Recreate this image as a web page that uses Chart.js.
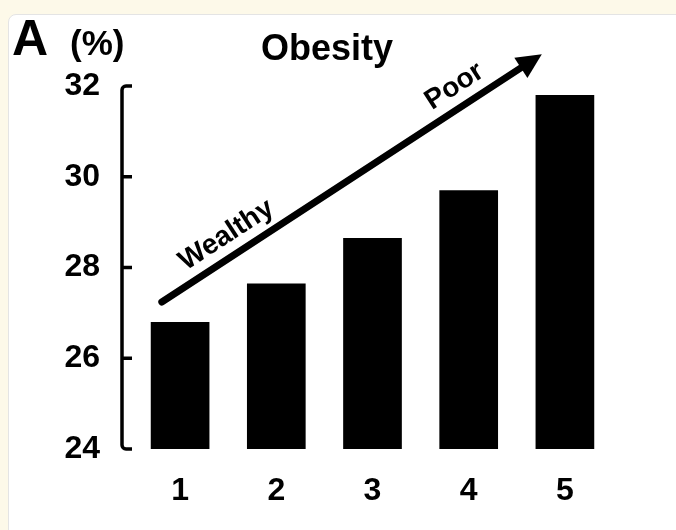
<!DOCTYPE html>
<html>
<head>
<meta charset="utf-8">
<script src="https://cdn.jsdelivr.net/npm/chart.js@4.4.1/dist/chart.umd.min.js"></script>
<style>
  html, body { margin: 0; padding: 0; }
  body { width: 676px; height: 530px; background: #fdf9e9; position: relative; overflow: hidden; }
  #panel { position: absolute; left: 8px; top: 14px; width: 700px; height: 540px; background: #fff;
           border: 1px solid #e4e4e4; border-radius: 8px; }
  #wrap { position: absolute; left: 0; top: 0; width: 676px; height: 530px; }
</style>
</head>
<body>
<div id="panel"></div>
<div id="wrap"><canvas id="obesityChart"></canvas></div>
<script>
const categories = ['1', '2', '3', '4', '5'];
const obesityRates = [26.8, 27.65, 28.65, 29.7, 31.8];
const yTicks = [24, 26, 28, 30, 32];
// arrow in data units: [category index, value]
const arrowStart = [-0.19, 27.24];
const arrowEnd = [3.76, 32.7];

const FONT = "'Liberation Sans', Arial, sans-serif";

const annotations = {
  id: 'annotations',
  afterDraw(chart) {
    const ctx = chart.ctx;
    const area = chart.chartArea;
    const x = chart.scales.x, y = chart.scales.y;
    ctx.save();

    // bracket-style y axis
    const ax = area.left - 10, tick = 10, r = 4;
    const top = y.getPixelForValue(yTicks[yTicks.length - 1]);
    const bot = y.getPixelForValue(yTicks[0]);
    ctx.strokeStyle = '#000';
    ctx.lineWidth = 3.5;
    ctx.lineCap = 'butt';
    ctx.beginPath();
    ctx.moveTo(ax + tick, top);
    ctx.arcTo(ax, top, ax, top + r, r);
    ctx.arcTo(ax, bot, ax + tick, bot, r);
    ctx.lineTo(ax + tick, bot);
    ctx.stroke();
    yTicks.slice(1, -1).forEach(v => {
      const py = y.getPixelForValue(v);
      ctx.beginPath();
      ctx.moveTo(ax, py);
      ctx.lineTo(ax + tick, py);
      ctx.stroke();
    });

    // arrow
    const x0 = x.getPixelForValue(arrowStart[0]), y0 = y.getPixelForValue(arrowStart[1]);
    const x1 = x.getPixelForValue(arrowEnd[0]), y1 = y.getPixelForValue(arrowEnd[1]);
    const ang = Math.atan2(y1 - y0, x1 - x0);
    const len = Math.hypot(x1 - x0, y1 - y0);
    ctx.translate(x0, y0);
    ctx.rotate(ang);
    ctx.lineWidth = 7;
    ctx.lineCap = 'round';
    ctx.beginPath();
    ctx.moveTo(0, 0);
    ctx.lineTo(len - 20, 0);
    ctx.stroke();
    ctx.fillStyle = '#000';
    ctx.beginPath();
    ctx.moveTo(len, 0);
    ctx.lineTo(len - 25, -12);
    ctx.lineTo(len - 25, 12);
    ctx.closePath();
    ctx.fill();

    ctx.font = 'bold 28px ' + FONT;
    ctx.textAlign = 'center';
    ctx.textBaseline = 'alphabetic';
    ctx.fillText('Wealthy', len * 0.20, -13);
    ctx.fillText('Poor', len * 0.80, -13);
    ctx.restore();

    // headings
    ctx.save();
    ctx.fillStyle = '#000';
    ctx.textBaseline = 'alphabetic';
    ctx.font = 'bold 50px ' + FONT;
    ctx.fillText('A', 12, 55);
    ctx.font = 'bold 35px ' + FONT;
    ctx.fillText('(%)', 70, 55);
    ctx.font = 'bold 36px ' + FONT;
    ctx.textAlign = 'center';
    ctx.fillText('Obesity', 327, 60);
    ctx.restore();
  }
};

new Chart(document.getElementById('obesityChart'), {
  type: 'bar',
  data: {
    labels: categories,
    datasets: [{
      label: 'Obesity',
      data: obesityRates,
      backgroundColor: '#000',
      borderWidth: 0,
      categoryPercentage: 1,
      barPercentage: 0.61
    }]
  },
  options: {
    responsive: true,
    maintainAspectRatio: false,
    animation: false,
    layout: { padding: { left: 0, right: 63, top: 86, bottom: 0 } },
    plugins: {
      legend: { display: false },
      tooltip: { enabled: false }
    },
    scales: {
      x: {
        grid: { display: false, drawTicks: false },
        border: { display: false },
        ticks: { color: '#000', font: { family: FONT, size: 32, weight: 'bold' }, padding: 23 },
        afterFit(scale) { scale.height = 81; }
      },
      y: {
        min: 24,
        max: 32,
        grid: { display: false, drawTicks: false },
        border: { display: false },
        afterBuildTicks(scale) { scale.ticks = yTicks.map(v => ({ value: v })); },
        ticks: { color: '#000', font: { family: FONT, size: 32, weight: 'bold' }, padding: 32 },
        afterFit(scale) { scale.width = 132; }
      }
    }
  },
  plugins: [annotations]
});
</script>
</body>
</html>
